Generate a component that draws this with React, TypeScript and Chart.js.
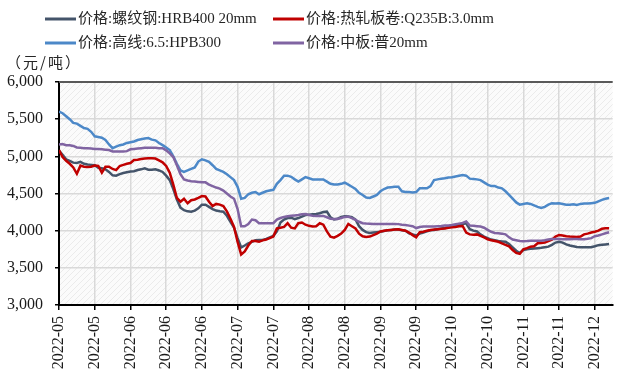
import React, { useEffect, useRef } from 'react';
import { Chart, registerables } from 'chart.js';

Chart.register(...registerables);

// Labels shown every 10 trading days along the x axis
const tickLabels = [
  '2022-05', '2022-05', '2022-06', '2022-06', '2022-06', '2022-07', '2022-07', '2022-08',
  '2022-08', '2022-09', '2022-09', '2022-10', '2022-10', '2022-11', '2022-11', '2022-12',
];

const seriesNames = [
  '价格:螺纹钢:HRB400 20mm',
  '价格:热轧板卷:Q235B:3.0mm',
  '价格:高线:6.5:HPB300',
  '价格:中板:普20mm',
];

const seriesColors = ['#44546A', '#C00000', '#4C88C8', '#8064A2'];

const unitLabel = '（元/吨）';

// 螺纹钢 HRB400 20mm
const rebar = [
  5076, 5020, 4960, 4940, 4915, 4910, 4925, 4900, 4890, 4885,
  4880, 4845, 4840, 4825, 4790, 4745, 4740, 4760, 4775, 4785,
  4795, 4800, 4815, 4825, 4838, 4820, 4820, 4826, 4810, 4790,
  4740, 4680, 4560, 4420, 4310, 4275, 4260, 4256, 4270, 4300,
  4350, 4350, 4320, 4290, 4270, 4260, 4256, 4200, 4120, 4040,
  3900, 3775, 3800, 3830, 3850, 3870, 3875, 3875, 3890, 3910,
  3930, 3990, 4110, 4150, 4170, 4175, 4155, 4170, 4190, 4210,
  4215, 4220, 4225, 4235, 4250, 4256, 4180, 4150, 4160, 4185,
  4195, 4190, 4180, 4150, 4060, 4010, 3980, 3970, 3975, 3980,
  3985, 3995, 4005, 4010, 4015, 4015, 4005, 4000, 3965, 3950,
  3935, 3960, 3975, 3990, 4005, 4010, 4020, 4030, 4035, 4045,
  4055, 4065, 4075, 4090, 4100, 4020, 4000, 3990, 3950, 3920,
  3900, 3880, 3870, 3860, 3855, 3850, 3820, 3775, 3730, 3700,
  3740, 3750, 3755, 3760, 3765, 3770, 3777, 3785, 3810, 3840,
  3852, 3840, 3815, 3800, 3790, 3780, 3777, 3777, 3777, 3777,
  3790, 3805, 3810, 3815, 3821,
];

// 热轧板卷 Q235B 3.0mm
const hotRolled = [
  5085, 4990, 4940, 4900, 4850, 4765, 4875, 4860, 4855, 4860,
  4875, 4870, 4780, 4860, 4860, 4830, 4815, 4870, 4885, 4900,
  4910, 4950, 4955, 4965, 4970, 4973, 4973, 4970, 4945, 4920,
  4870, 4780, 4620, 4440, 4390, 4430, 4370, 4410, 4420, 4440,
  4465, 4460, 4390, 4330, 4360, 4350, 4330, 4260, 4160, 4050,
  3850, 3680, 3720, 3800, 3860, 3860, 3850, 3870, 3880, 3900,
  3920, 4030, 4040, 4050, 4100, 4040, 4030, 4100, 4110, 4080,
  4065, 4055, 4060, 4100, 4080, 3990, 3920, 3905, 3930, 3960,
  4010, 4090, 4060, 4030, 3960, 3925, 3915, 3920, 3940, 3960,
  3990, 4000, 4005, 4010, 4015, 4020, 4010, 4000, 3975, 3940,
  3911, 3980, 3986, 4000, 4010, 4015, 4020, 4025, 4030, 4040,
  4045, 4050, 4058, 4063, 3975, 3950, 3945, 3950, 3930, 3910,
  3885, 3870, 3860, 3850, 3830, 3810, 3790, 3740, 3700, 3687,
  3750, 3765, 3785, 3790, 3830, 3835, 3840, 3860, 3880, 3920,
  3942, 3935, 3925, 3920, 3918, 3915, 3920, 3950, 3960, 3975,
  3986, 4000, 4025, 4032, 4032,
];

// 高线 6.5 HPB300
const wireRod = [
  5600, 5580, 5540, 5500, 5450, 5440, 5410, 5380, 5370, 5330,
  5270, 5260, 5250, 5220, 5160, 5110, 5130, 5150, 5160, 5180,
  5190, 5200, 5220, 5230, 5240, 5245, 5225, 5215, 5180, 5150,
  5120, 5085, 5000, 4900, 4810, 4790, 4810, 4830, 4850, 4930,
  4960, 4945, 4925, 4880, 4830, 4810, 4790, 4760, 4720, 4680,
  4590, 4430, 4440, 4490, 4510, 4520, 4490, 4510, 4530, 4540,
  4550, 4630, 4680, 4740, 4740, 4725, 4690, 4660, 4690, 4720,
  4705, 4690, 4690, 4690, 4690, 4660, 4630, 4620, 4620, 4630,
  4645, 4620, 4590, 4560, 4510, 4480, 4445, 4440, 4460, 4480,
  4530, 4560, 4580, 4585, 4590, 4590, 4530, 4520, 4520, 4515,
  4520, 4570, 4570, 4570, 4600, 4680, 4690, 4700, 4705, 4715,
  4720, 4730, 4740, 4750, 4740, 4700, 4695, 4690, 4680, 4650,
  4620, 4600, 4600, 4580, 4570, 4530, 4480, 4430, 4380, 4350,
  4360, 4370, 4360, 4340, 4320, 4305, 4320, 4350, 4370, 4365,
  4370, 4360, 4350, 4350, 4355, 4345, 4360, 4365, 4365, 4370,
  4375, 4395, 4415, 4430, 4440,
];

// 中板 普20mm
const plate = [
  5160, 5165, 5150, 5150, 5140, 5120, 5115, 5110, 5110, 5105,
  5100, 5100, 5095, 5090, 5085, 5065, 5065, 5065, 5065, 5070,
  5095, 5100, 5105, 5110, 5115, 5115, 5115, 5115, 5110, 5110,
  5080, 5040, 4990, 4880, 4760, 4690, 4675, 4665, 4660, 4655,
  4650, 4650, 4620, 4600, 4580, 4565, 4540, 4500, 4460, 4430,
  4290, 4060, 4060, 4090, 4150, 4140, 4100, 4100, 4100, 4100,
  4100, 4150, 4170, 4185, 4195, 4200, 4205, 4210, 4220, 4225,
  4210, 4200, 4198, 4198, 4198, 4180, 4160, 4157, 4157, 4170,
  4185, 4188, 4170, 4145, 4120, 4100, 4095, 4092, 4090, 4090,
  4090, 4090, 4090, 4090, 4090, 4088, 4080, 4075, 4068, 4060,
  4035, 4050, 4055, 4055, 4055, 4055, 4058, 4062, 4068, 4070,
  4075, 4085, 4095, 4105, 4125, 4070, 4065, 4060, 4055, 4040,
  4010, 3985, 3970, 3965, 3960, 3950, 3910, 3880, 3870, 3860,
  3858, 3860, 3865, 3866, 3866, 3866, 3870, 3880, 3888, 3888,
  3888, 3885, 3885, 3885, 3888, 3888, 3885, 3885, 3890, 3900,
  3925, 3935, 3950, 3965, 3978,
];

const seriesValues = [rebar, hotRolled, wireRod, plate];

const SERIF = "'Liberation Serif', 'Noto Sans CJK SC', serif";
const CJK = "'Noto Sans CJK SC', sans-serif";

// Light diagonal hatching behind the plot area
const hatchPlugin = {
  id: 'hatch',
  beforeDraw(chart: any) {
    const { ctx, chartArea: a } = chart;
    ctx.save();
    ctx.beginPath();
    ctx.rect(a.left, a.top, a.right - a.left, a.bottom - a.top);
    ctx.clip();
    ctx.fillStyle = '#fbfbfb';
    ctx.fillRect(a.left, a.top, a.right - a.left, a.bottom - a.top);
    ctx.strokeStyle = '#ebebeb';
    ctx.lineWidth = 1;
    const h = a.bottom - a.top;
    for (let x = a.left - h; x < a.right + 6; x += 6) {
      ctx.beginPath();
      ctx.moveTo(x, a.bottom);
      ctx.lineTo(x + h, a.top);
      ctx.stroke();
    }
    ctx.restore();
  },
};

// Two-row legend, the unit caption and the top frame line
const decorPlugin = {
  id: 'decor',
  afterDraw(chart: any) {
    const { ctx, chartArea: a } = chart;
    ctx.save();
    ctx.strokeStyle = '#595959';
    ctx.lineWidth = 2;
    ctx.beginPath();
    ctx.moveTo(a.left, a.top);
    ctx.lineTo(a.right, a.top);
    ctx.stroke();

    const colX = [45, 273];
    const rowY = [19, 43];
    ctx.font = `15px ${SERIF}`;
    ctx.textBaseline = 'middle';
    ctx.textAlign = 'left';
    chart.data.datasets.forEach((ds: any, i: number) => {
      const x = colX[i % 2];
      const y = rowY[Math.floor(i / 2)];
      ctx.strokeStyle = ds.borderColor;
      ctx.lineWidth = 3;
      ctx.beginPath();
      ctx.moveTo(x, y);
      ctx.lineTo(x + 31, y);
      ctx.stroke();
      ctx.fillStyle = '#262626';
      ctx.fillText(ds.label, x + 33, y);
    });

    ctx.font = `15px ${CJK}`;
    ctx.fillStyle = '#262626';
    (ctx as any).letterSpacing = '2px';
    ctx.fillText(unitLabel, 6, 62);
    ctx.restore();
  },
};

export default function App() {
  const canvasRef = useRef<HTMLCanvasElement | null>(null);

  useEffect(() => {
    if (!canvasRef.current) return;
    const chart = new Chart(canvasRef.current, {
      type: 'line',
      data: {
        datasets: seriesValues.map((vals, i) => ({
          label: seriesNames[i],
          data: vals.map((v, k) => ({ x: k, y: v })),
          borderColor: seriesColors[i],
          backgroundColor: seriesColors[i],
          borderWidth: 2.5,
          pointRadius: 0,
          tension: 0,
          order: 4 - i,
        })),
      },
      options: {
        responsive: false,
        animation: false,
        events: [],
        layout: { padding: { top: 82, left: 0, right: 0, bottom: 0 } },
        plugins: {
          legend: { display: false },
          tooltip: { enabled: false },
        },
        scales: {
          x: {
            type: 'linear',
            min: 0,
            max: 155,
            afterFit(scale: any) {
              scale.height = 67;
            },
            ticks: {
              stepSize: 10,
              includeBounds: false,
              autoSkip: false,
              maxRotation: 90,
              minRotation: 90,
              padding: 6,
              color: '#1a1a1a',
              font: { family: SERIF, size: 16 },
              callback: (v: any) => tickLabels[Math.round(Number(v) / 10)] ?? '',
            },
            grid: {
              color: '#d9d9d9',
              lineWidth: 1.5,
              tickColor: '#000',
              tickLength: 5,
            },
            border: { color: '#000', width: 2 },
          },
          y: {
            type: 'linear',
            min: 3000,
            max: 6000,
            afterFit(scale: any) {
              scale.width = 59;
            },
            ticks: {
              stepSize: 500,
              padding: 12,
              color: '#1a1a1a',
              font: { family: SERIF, size: 16 },
              callback: (v: any) => Number(v).toLocaleString('en-US'),
            },
            grid: {
              color: '#d9d9d9',
              lineWidth: 1.5,
              tickColor: '#000',
              tickLength: 4,
            },
            border: { color: '#000', width: 2 },
          },
        },
      },
      plugins: [hatchPlugin, decorPlugin],
    });
    return () => chart.destroy();
  }, []);

  return (
    <div style={{ position: 'absolute', left: 0, top: 0, width: 617, height: 372, overflow: 'hidden', background: '#fff' }}>
      <canvas ref={canvasRef} width={620} height={372} style={{ display: 'block' }} />
    </div>
  );
}
